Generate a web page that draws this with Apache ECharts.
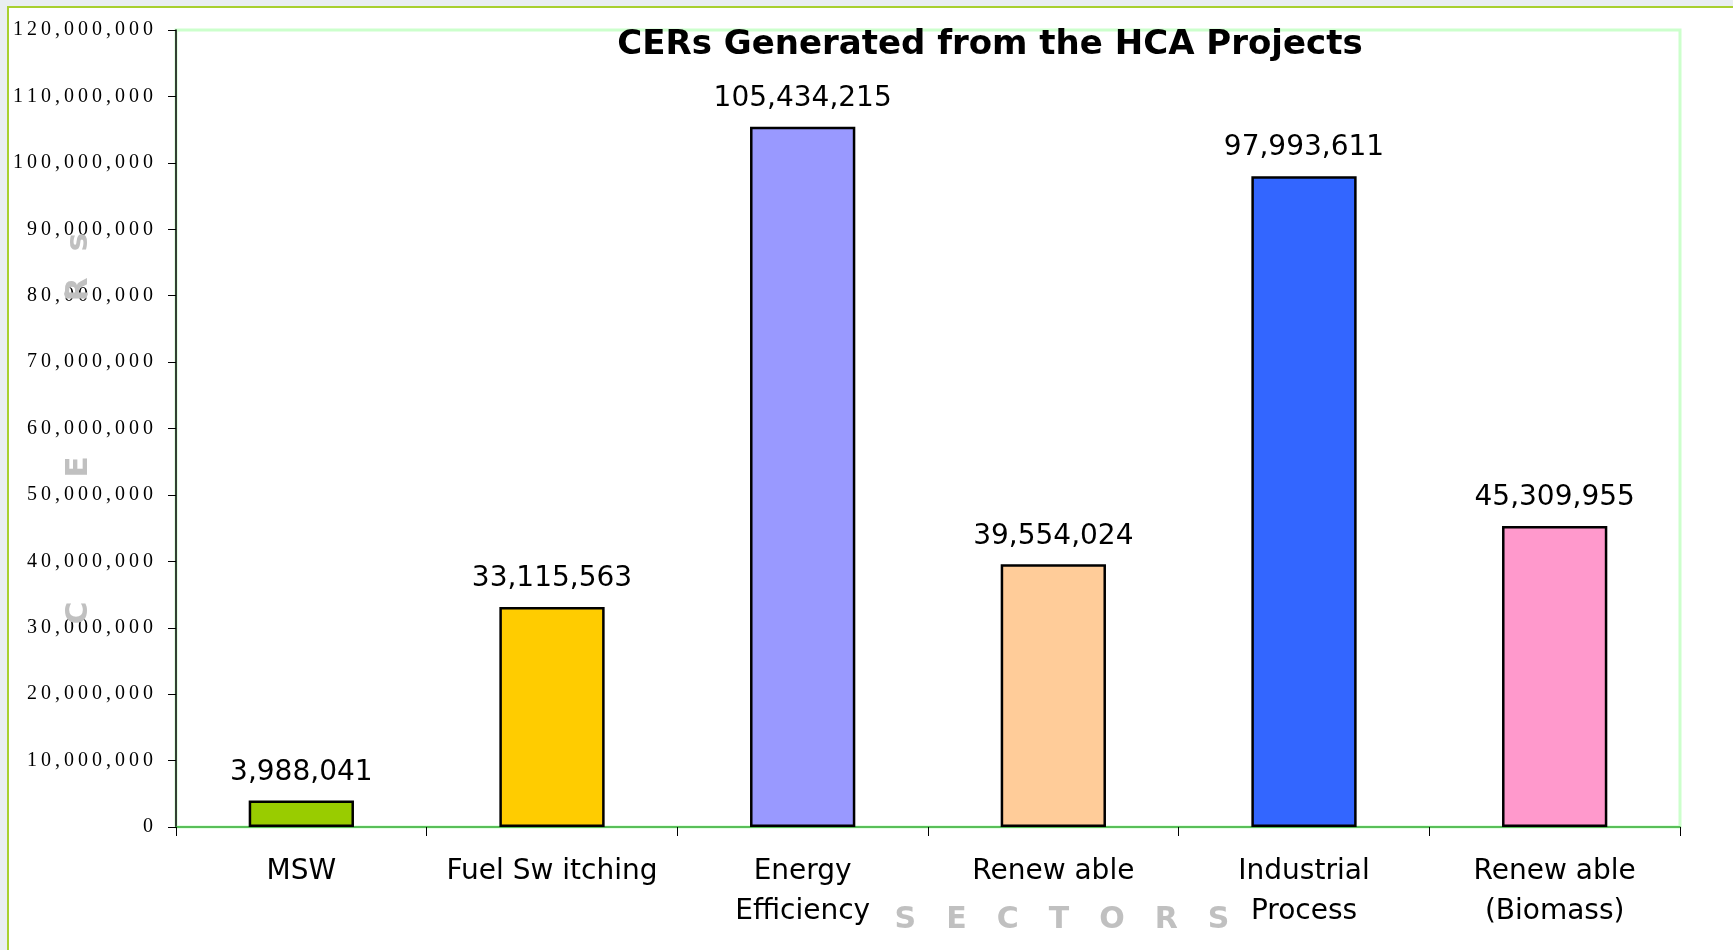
<!DOCTYPE html>
<html>
<head>
<meta charset="utf-8">
<script src="https://cdn.jsdelivr.net/npm/echarts@6/dist/echarts.min.js"></script>
<style>
html,body{margin:0;padding:0;background:#e9eef2;}
#chart{width:1733px;height:950px;}
</style>
</head>
<body>
<div id="chart"></div>
<script>
const categories = ['MSW', 'Fuel Sw itching', 'Energy\nEfficiency', 'Renew able', 'Industrial\nProcess', 'Renew able\n(Biomass)'];
const cerValues = [3988041, 33115563, 105434215, 39554024, 97993611, 45309955];
const barColors = ['#99CC00', '#FFCC00', '#9999FF', '#FFCC99', '#3366FF', '#FF99CC'];
const yTickMax = 120000000;
const yTickStep = 10000000;

const fmt = v => v.toString().replace(/\B(?=(\d{3})+(?!\d))/g, ',');

const chart = echarts.init(document.getElementById('chart'));
chart.setOption({
  backgroundColor: '#e9eef2',
  animation: false,
  graphic: [{
    type: 'rect', z: -10, silent: true,
    shape: { x: 8, y: 7, width: 1740, height: 960 },
    style: { fill: '#ffffff', stroke: '#a8d030', lineWidth: 2 }
  }],
  title: {
    text: 'CERs Generated from the HCA Projects',
    left: 985, top: 23, textAlign: 'center',
    textStyle: { fontFamily: 'DejaVu Sans', fontWeight: 'bold', fontSize: 34, color: '#000' }
  },
  grid: {
    left: 176, right: 53, top: 30, bottom: 123,
    outerBoundsMode: 'none', containLabel: false,
    show: true, backgroundColor: '#ffffff', borderColor: '#ccffcc', borderWidth: 3
  },
  xAxis: {
    type: 'category',
    data: categories,
    name: 'S\u2003E\u2003C\u2003T\u2003O\u2003R\u2003S',
    nameLocation: 'middle',
    nameGap: 78,
    nameMoveOverlap: false,
    nameTextStyle: { color: '#c0c0c0', fontFamily: 'DejaVu Sans', fontWeight: 'bold', fontSize: 30, padding: [0, 0, 0, 268] },
    axisLine: { lineStyle: { color: '#33aa33', width: 1.5 } },
    axisTick: { show: true, length: 9, lineStyle: { color: '#000' } },
    axisLabel: { color: '#000', fontFamily: 'DejaVu Sans', fontSize: 28, lineHeight: 40, margin: 25, interval: 0 }
  },
  yAxis: [{
    type: 'value',
    min: 0, max: yTickMax, interval: yTickStep,
    splitLine: { show: false },
    axisLine: { show: true, lineStyle: { color: '#000', width: 1.5 } },
    axisTick: { show: true, length: 8, lineStyle: { color: '#000' } },
    axisLabel: {
      color: '#000', fontFamily: 'Liberation Serif', fontSize: 20, margin: 23,
      formatter: v => fmt(v).split('').join('\u2009')
    }
  }, {
    type: 'value',
    position: 'left',
    min: 0, max: yTickMax, interval: yTickStep,
    z: 10,
    name: 'C\u2003\u2003\u2003\u2003E\u2003\u2003\u2003\u2003\u2003R\u2002 s',
    nameLocation: 'middle',
    nameRotate: 90,
    nameGap: 82,
    nameMoveOverlap: false,
    nameTextStyle: { color: '#c0c0c0', fontFamily: 'DejaVu Sans', fontWeight: 'bold', fontSize: 31 },
    splitLine: { show: false },
    axisLine: { show: false },
    axisTick: { show: false },
    axisLabel: { show: false }
  }],
  series: [{
    type: 'bar',
    yAxisIndex: 0,
    data: cerValues.map((v, i) => ({ value: v, itemStyle: { color: barColors[i] } })),
    barWidth: '42%',
    itemStyle: { borderColor: '#000', borderWidth: 2.5 },
    label: {
      show: true, position: 'top', distance: 14,
      color: '#000', fontFamily: 'DejaVu Sans', fontSize: 28,
      formatter: p => fmt(p.value)
    }
  }]
});
</script>
</body>
</html>
